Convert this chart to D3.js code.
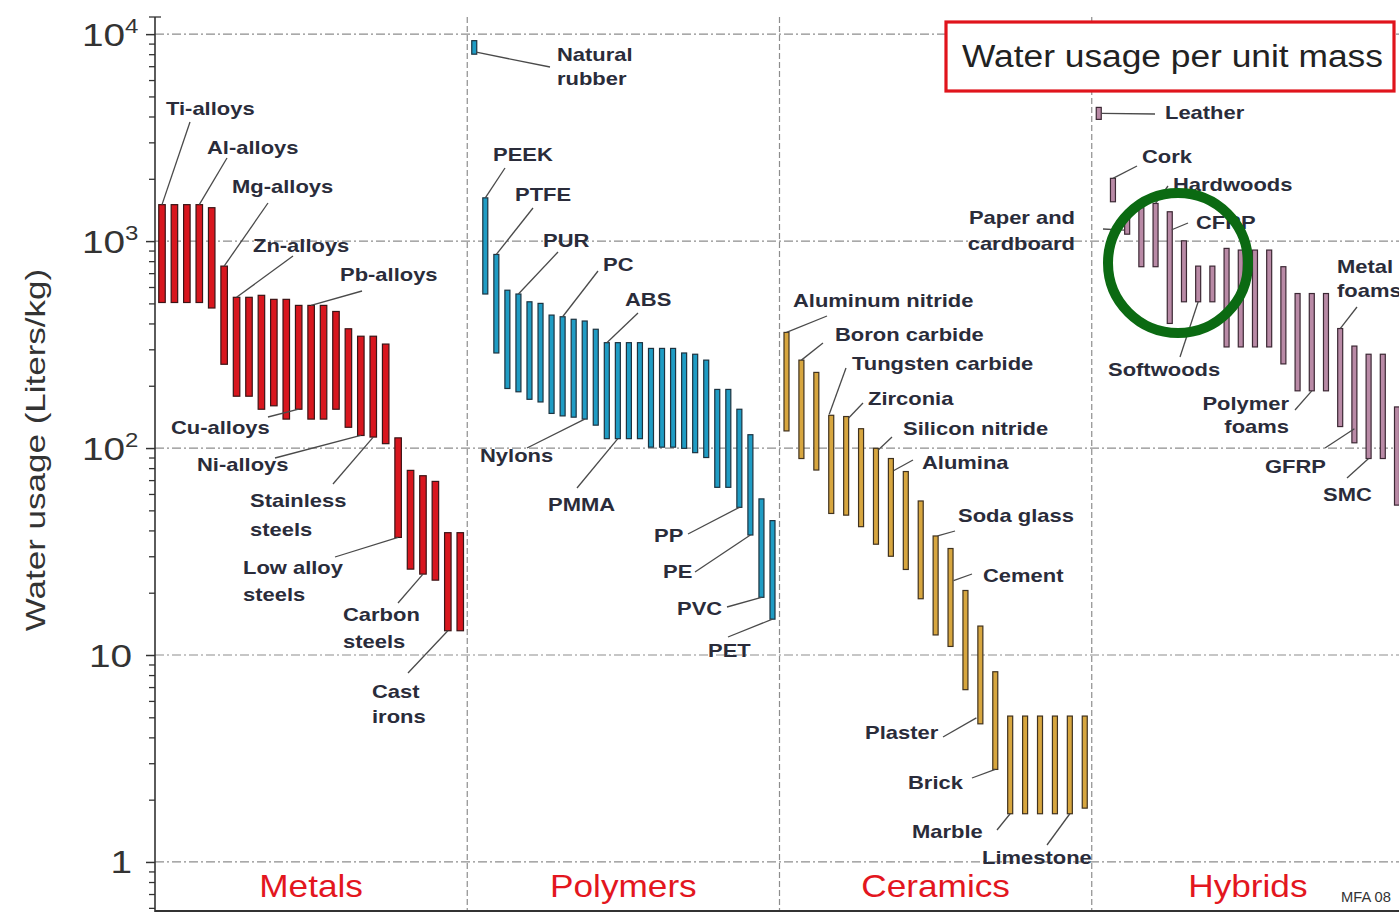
<!DOCTYPE html>
<html>
<head>
<meta charset="utf-8">
<script src="https://cdn.jsdelivr.net/npm/d3@7"></script>
<style>
  body { margin: 0; background: #fff; }
  svg { display: block; }
  text { font-family: "Liberation Sans", Arial, Helvetica, sans-serif; }
</style>
</head>
<body>
<svg id="chart" width="1399" height="915"></svg>
<script>
// ---- data: water usage ranges (Liters/kg), low and high end of each bar ----
const families = ["Metals", "Polymers", "Ceramics", "Hybrids"];

const metalsLow  = [505, 505, 505, 505, 475, 254, 178, 178, 154, 160, 138, 154, 138, 138, 154, 126, 115, 113, 105, 37, 26, 24.6, 23, 13.1, 13.1];
const metalsHigh = [1500, 1500, 1500, 1500, 1450, 757, 535, 535, 547, 523, 523, 489, 489, 489, 457, 377, 347, 347, 318, 112, 78, 73.5, 69, 39, 39];

const polymersLow  = [8000, 555, 288, 194, 187, 172, 167, 147, 143, 141, 138, 129, 111, 111, 111, 111, 101, 101, 101, 99.7, 95, 90, 64.6, 64.6, 51.7, 38, 19, 14.9];
const polymersHigh = [9300, 1618, 862, 579, 555, 509, 500, 439, 431, 419, 411, 375, 323, 323, 323, 323, 303, 303, 303, 288, 284, 266, 192, 192, 154, 116, 56.8, 44.6];

const ceramicsLow  = [121, 89, 78.3, 48.3, 47.4, 41.7, 34.3, 30, 25.9, 18.7, 12.5, 11.0, 6.8, 4.65, 2.8, 1.71, 1.71, 1.71, 1.71, 1.71, 1.82];
const ceramicsHigh = [362, 266, 232, 144, 142, 124, 99.7, 89, 77, 55.5, 37.6, 32.7, 20.5, 13.8, 8.3, 5.07, 5.07, 5.07, 5.07, 5.07, 5.07];

const hybridsLow  = [3873, 1549, 1080, 752, 752, 400, 509, 509, 509, 308, 308, 308, 308, 255, 189, 189, 189, 127, 106, 89, 89, 53];
const hybridsHigh = [4426, 2010, 1350, 1450, 1520, 1386, 1003, 757, 757, 922, 905, 905, 905, 752, 558, 558, 558, 378, 311, 284, 284, 158];

const yTickValues = [1, 10, 100, 1000, 10000];
const yTickBase   = ["1", "10", "10", "10", "10"];
const yTickExp    = ["", "", "2", "3", "4"];

const titleText = "Water usage per unit mass";
const yTitle = "Water usage (Liters/kg)";

// ---- label callouts: text, bar index, bar end, leader end point, text anchor ----
const notes = {
  Metals: [
    {t: ["Ti-alloys"], b: 0, e: "high", to: [190, 122], x: 166, y: 115},
    {t: ["Al-alloys"], b: 3, e: "high", to: [227, 158], x: 207, y: 154},
    {t: ["Mg-alloys"], b: 5, e: "high", to: [268, 203], x: 232, y: 193},
    {t: ["Zn-alloys"], b: 6, e: "high", to: [293, 256], x: 253, y: 252},
    {t: ["Pb-alloys"], b: 12, e: "high", to: [362, 291], x: 340, y: 281},
    {t: ["Cu-alloys"], b: 11, e: "low", to: [268, 417], x: 171, y: 434},
    {t: ["Ni-alloys"], b: 16, e: "low", to: [275, 458], x: 197, y: 471},
    {t: ["Stainless", "steels"], b: 17, e: "low", to: [333, 484], x: 250, y: 507, lh: 29},
    {t: ["Low alloy", "steels"], b: 19, e: "low", to: [335, 557], x: 243, y: 574, lh: 27},
    {t: ["Carbon", "steels"], b: 21, e: "low", to: [398, 603], x: 343, y: 621, lh: 27},
    {t: ["Cast", "irons"], b: 23, e: "low", to: [408, 673], x: 372, y: 698, lh: 25}
  ],
  Polymers: [
    {t: ["Natural", "rubber"], b: 0, e: "low", off: [2, -2], to: [550, 67], x: 557, y: 61, lh: 24},
    {t: ["PEEK"], b: 1, e: "high", to: [505, 168], x: 493, y: 161},
    {t: ["PTFE"], b: 2, e: "high", to: [533, 208], x: 515, y: 201},
    {t: ["PUR"], b: 4, e: "high", to: [558, 252], x: 543, y: 247},
    {t: ["PC"], b: 8, e: "high", to: [598, 271], x: 603, y: 271},
    {t: ["ABS"], b: 12, e: "high", to: [638, 313], x: 625, y: 306},
    {t: ["Nylons"], b: 10, e: "low", to: [527, 448], x: 480, y: 462},
    {t: ["PMMA"], b: 13, e: "low", to: [577, 488], x: 548, y: 511},
    {t: ["PP"], b: 24, e: "low", to: [688, 534], x: 654, y: 542},
    {t: ["PE"], b: 25, e: "low", to: [695, 572], x: 663, y: 578},
    {t: ["PVC"], b: 26, e: "low", to: [727, 607], x: 677, y: 615},
    {t: ["PET"], b: 27, e: "low", to: [728, 637], x: 708, y: 657}
  ],
  Ceramics: [
    {t: ["Aluminum nitride"], b: 0, e: "high", to: [827, 316], x: 793, y: 307},
    {t: ["Boron carbide"], b: 1, e: "high", to: [823, 343], x: 835, y: 341},
    {t: ["Tungsten carbide"], b: 3, e: "high", off: [-2, -1], to: [846, 368], x: 852, y: 370},
    {t: ["Zirconia"], b: 4, e: "high", off: [2, 2], to: [863, 403], x: 868, y: 405},
    {t: ["Silicon nitride"], b: 6, e: "high", off: [2, 2], to: [892, 437], x: 903, y: 435},
    {t: ["Alumina"], b: 7, e: "high", off: [3, 12], to: [913, 460], x: 922, y: 469},
    {t: ["Soda glass"], b: 10, e: "high", off: [2, 0], to: [955, 531], x: 958, y: 522},
    {t: ["Cement"], b: 11, e: "high", off: [3, 32], to: [972, 574], x: 983, y: 582},
    {t: ["Plaster"], b: 13, e: "low", off: [-4, -6], to: [943, 737], x: 865, y: 739},
    {t: ["Brick"], b: 14, e: "low", to: [972, 778], x: 908, y: 789},
    {t: ["Marble"], b: 15, e: "low", to: [997, 830], x: 912, y: 838},
    {t: ["Limestone"], b: 19, e: "low", to: [1047, 845], x: 982, y: 864}
  ],
  Hybrids: [
    {t: ["Leather"], b: 0, e: "high", off: [3, 6], to: [1155, 114], x: 1165, y: 119},
    {t: ["Cork"], b: 1, e: "high", to: [1137, 166], x: 1142, y: 163},
    {t: ["Paper and", "cardboard"], b: 2, e: "low", off: [-3, -4], to: [1103, 229], x: 1075, y: 224, anchor: "end", lh: 26},
    {t: ["Hardwoods"], b: 4, e: "high", to: [1168, 186], x: 1173, y: 191},
    {t: ["CFRP"], b: 5, e: "high", off: [2, 18], to: [1188, 223], x: 1196, y: 229},
    {t: ["Softwoods"], b: 7, e: "low", to: [1180, 357], x: 1108, y: 376},
    {t: ["Polymer", "foams"], b: 15, e: "low", to: [1295, 410], x: 1289, y: 410, anchor: "end", lh: 23},
    {t: ["Metal", "foams"], b: 17, e: "high", to: [1357, 307], x: 1337, y: 273, lh: 24},
    {t: ["GFRP"], b: 18, e: "low", off: [0, -14], to: [1325, 448], x: 1265, y: 473},
    {t: ["SMC"], b: 19, e: "low", to: [1347, 478], x: 1323, y: 501}
  ]
};

// ---- styling per family ----
const style = {
  Metals:   {fill: "#d8161e", stroke: "#3b1416", w: 6.5},
  Polymers: {fill: "#1f9cc4", stroke: "#1c3340", w: 5},
  Ceramics: {fill: "#d7a63f", stroke: "#40321f", w: 5},
  Hybrids:  {fill: "#b98aa6", stroke: "#3c2834", w: 5}
};
const series = {
  Metals:   {low: metalsLow, high: metalsHigh},
  Polymers: {low: polymersLow, high: polymersHigh},
  Ceramics: {low: ceramicsLow, high: ceramicsHigh},
  Hybrids:  {low: hybridsLow, high: hybridsHigh}
};

const svg = d3.select("#chart");
const W = 1399;
const plotLeft = 155, plotBottom = 910, plotTop = 17;

const y = d3.scaleLog().domain([0.586, 12100]).range([plotBottom, plotTop]);
const xFamily = d3.scaleBand().domain(families).range([plotLeft, 1404]).paddingInner(0);

const TEXT_COLOR = "#2a2c3a";
const SX = 1.22; // horizontal stretch of the label typeface

// horizontal gridlines (dash-dot) at decades
svg.append("g").selectAll("line").data(yTickValues).join("line")
  .attr("x1", plotLeft).attr("x2", W)
  .attr("y1", d => y(d)).attr("y2", d => y(d))
  .attr("stroke", "#8d8d8d").attr("stroke-width", 1.2)
  .attr("stroke-dasharray", "9,3,2,3");

// vertical family separators
svg.append("g").selectAll("line").data(families.slice(1)).join("line")
  .attr("x1", d => xFamily(d)).attr("x2", d => xFamily(d))
  .attr("y1", plotTop).attr("y2", plotBottom)
  .attr("stroke", "#8d8d8d").attr("stroke-width", 1.2)
  .attr("stroke-dasharray", "6,3");

// y axis: minor and major ticks
const allTicks = y.ticks();
const minorTicks = allTicks.filter(v => !yTickValues.includes(v));
svg.append("g").attr("transform", `translate(${plotLeft},0)`)
  .call(d3.axisLeft(y).tickValues(minorTicks).tickSize(6).tickSizeOuter(0).tickFormat(""))
  .call(g => g.select(".domain").remove())
  .call(g => g.selectAll(".tick line").attr("stroke", "#333").attr("stroke-width", 1.3));

const majorAxis = svg.append("g").attr("transform", `translate(${plotLeft},0)`)
  .call(d3.axisLeft(y).tickValues(yTickValues).tickSize(9).tickSizeOuter(0).tickFormat(""))
  .call(g => g.select(".domain").remove())
  .call(g => g.selectAll(".tick line").attr("stroke", "#333").attr("stroke-width", 1.5));

majorAxis.selectAll(".tick").each(function(d) {
  const idx = yTickValues.indexOf(d);
  const base = yTickBase[idx], exp = yTickExp[idx];
  const g = d3.select(this);
  const tx = exp ? -30 : -23;
  g.append("text")
    .attr("transform", `translate(${tx},11) scale(1.25,1)`)
    .attr("text-anchor", "end")
    .attr("fill", "#333")
    .attr("font-size", 31)
    .text(base);
  if (exp) {
    g.append("text")
      .attr("transform", `translate(${tx},-2) scale(1.2,1)`)
      .attr("text-anchor", "start")
      .attr("fill", "#333")
      .attr("font-size", 20)
      .text(exp);
  }
});

// axis frame
svg.append("line").attr("x1", plotLeft).attr("x2", plotLeft).attr("y1", plotTop).attr("y2", plotBottom + 2)
  .attr("stroke", "#333").attr("stroke-width", 1.6);
svg.append("line").attr("x1", plotLeft - 6).attr("x2", plotLeft + 6).attr("y1", plotTop).attr("y2", plotTop)
  .attr("stroke", "#333").attr("stroke-width", 1.3);
svg.append("line").attr("x1", plotLeft).attr("x2", W).attr("y1", plotBottom + 1).attr("y2", plotBottom + 1)
  .attr("stroke", "#333").attr("stroke-width", 2.2);

// y axis title
svg.append("text")
  .attr("transform", "translate(45,450) rotate(-90) scale(1.25,1)")
  .attr("text-anchor", "middle")
  .attr("fill", "#333")
  .attr("font-size", 28)
  .text(yTitle);

// bars and callouts per family
families.forEach(f => {
  const s = series[f], st = style[f];
  const x0 = xFamily(f), bw = xFamily.bandwidth();
  const xs = d3.scalePoint().domain(d3.range(s.low.length)).range([x0 + 7, x0 + bw - 7]);

  const g = svg.append("g");
  g.selectAll("rect").data(s.low.map((lo, i) => ({i, lo, hi: s.high[i]}))).join("rect")
    .attr("x", d => xs(d.i) - st.w / 2)
    .attr("y", d => y(d.hi))
    .attr("width", st.w)
    .attr("height", d => y(d.lo) - y(d.hi))
    .attr("fill", st.fill)
    .attr("stroke", st.stroke)
    .attr("stroke-width", 1.2);

  // leader lines and label text
  const ng = svg.append("g");
  notes[f].forEach(n => {
    const off = n.off || [0, 0];
    const v = n.e === "high" ? s.high[n.b] : s.low[n.b];
    const bx = xs(n.b) + off[0], by = y(v) + off[1];
    ng.append("line")
      .attr("x1", bx).attr("y1", by)
      .attr("x2", n.to[0]).attr("y2", n.to[1])
      .attr("stroke", "#4a4a4a").attr("stroke-width", 1.3);
    const lh = n.lh || 26;
    n.t.forEach((line, k) => {
      ng.append("text")
        .attr("transform", `translate(${n.x},${n.y + k * lh}) scale(${SX},1)`)
        .attr("text-anchor", n.anchor || "start")
        .attr("font-size", 18)
        .attr("font-weight", "bold")
        .attr("fill", TEXT_COLOR)
        .text(line);
    });
  });

  // family label
  svg.append("text")
    .attr("transform", `translate(${x0 + bw / 2},897) scale(1.1,1)`)
    .attr("text-anchor", "middle")
    .attr("fill", "#e3161e")
    .attr("font-size", 32)
    .text(f);
});

// title box
svg.append("rect")
  .attr("x", 946).attr("y", 22).attr("width", 448).attr("height", 69)
  .attr("fill", "#fff").attr("stroke", "#e0141c").attr("stroke-width", 3.2);
svg.append("text")
  .attr("transform", "translate(962,67) scale(1.14,1)")
  .attr("fill", "#222")
  .attr("font-size", 31)
  .text(titleText);

// source tag
svg.append("text")
  .attr("transform", "translate(1341,902) scale(1.05,1)")
  .attr("fill", "#333")
  .attr("font-size", 14)
  .text("MFA 08");

// highlight ring around the wood/CFRP group
svg.append("circle")
  .attr("cx", 1178).attr("cy", 263).attr("r", 70)
  .attr("fill", "none").attr("stroke", "#0b6a12").attr("stroke-width", 10);
</script>
</body>
</html>
